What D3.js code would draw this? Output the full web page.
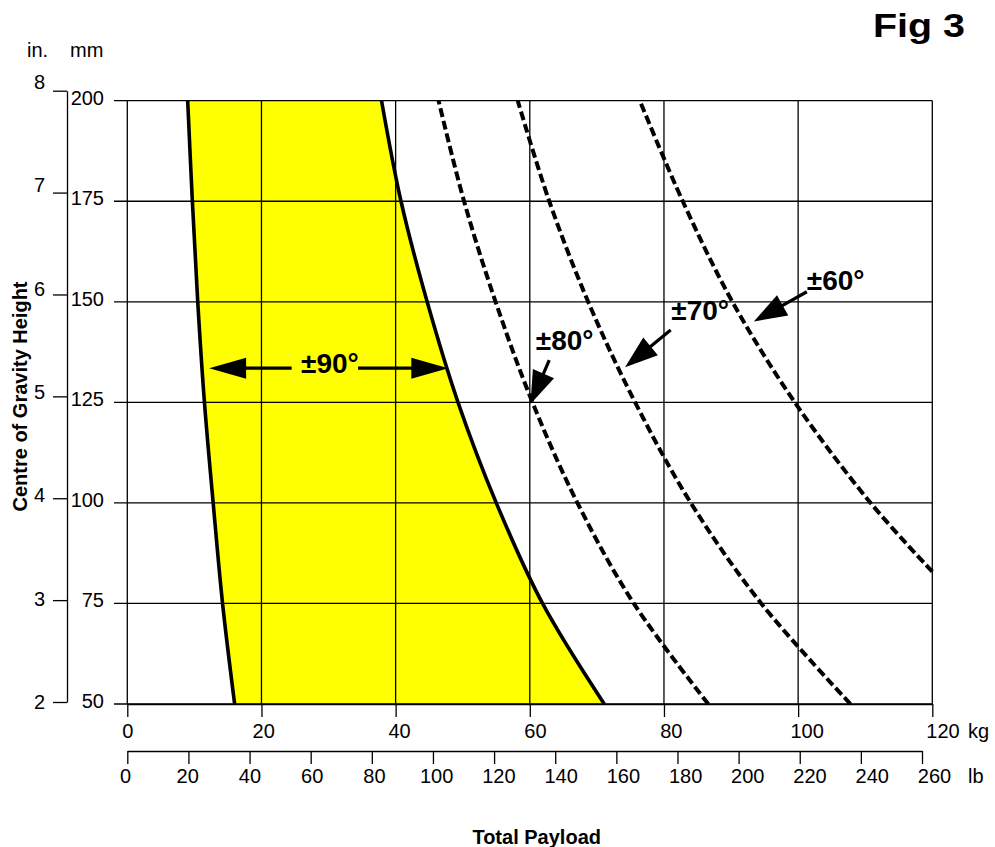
<!DOCTYPE html>
<html>
<head>
<meta charset="utf-8">
<script src="https://cdn.jsdelivr.net/npm/d3@7"></script>
<style>
  html, body { margin: 0; padding: 0; background: #fff; }
  svg { display: block; font-family: "Liberation Sans", Arial, Helvetica, sans-serif; }
</style>
</head>
<body>
<svg id="chart" width="995" height="847"></svg>
<script>
// ---------- data ----------
const kgTicks = [0, 20, 40, 60, 80, 100, 120];
const lbTicks = [0, 20, 40, 60, 80, 100, 120, 140, 160, 180, 200, 220, 240, 260];
const mmTicks = [50, 75, 100, 125, 150, 175, 200];
const inTicks = [2, 3, 4, 5, 6, 7, 8];

// centre of gravity height (mm) vs payload (kg) limits
const heightMM   = [50, 75, 100, 125, 150, 175, 200];
const limit90Low = [16.0, 14.2, 12.8, 11.5, 10.5, 9.7, 9.0];
const limit90High= [71.1, 61.9, 55.0, 49.3, 44.7, 40.8, 37.9];
const limit80    = [86.6, 75.5, 67.1, 60.4, 54.9, 50.2, 46.4];
const limit70    = [107.8, 94.5, 84.0, 75.7, 68.7, 62.9, 58.2];
const limit60Height = [82.9, 100, 125, 150, 175, 200];
const limit60       = [120, 110.8, 99.5, 90.2, 82.8, 76.4];

// annotations (data coordinates: kg, mm)
const labelText = ["±90°", "±80°", "±70°", "±60°"];
const labelKg   = [30.2, 65.2, 85.4, 105.6];
const labelMM   = [134.8, 140.5, 148.0, 155.4];
const arrowFromKg = [24.5, 34.4, 62.9, 81.0, 101.3];
const arrowFromMM = [133.5, 133.5, 135.5, 143.0, 152.5];
const arrowTipKg  = [12.2, 47.85, 60.1, 74.2, 93.4];
const arrowTipMM  = [133.5, 133.5, 124.6, 133.7, 145.1];

// ---------- scales ----------
const svg = d3.select("#chart");
const x = d3.scaleLinear().domain([0, 120]).range([127.3, 932.3]);
const xKgLabel = d3.scaleLinear().domain([0, 120]).range([127.3, 942.5]);
const xLb = d3.scaleLinear().domain([0, 260]).range([127.3, 922]);
const xLbLabel = d3.scaleLinear().domain([0, 260]).range([125, 934]);
const y = d3.scaleLinear().domain([50, 200]).range([704, 100.7]);
const yIn = d3.scaleLinear().domain([2, 8]).range([702, 90.7]);
const yInLabel = d3.scaleLinear().domain([2, 8]).range([702, 82]);

const FS = 20;

// ---------- yellow ±90° zone ----------
const zone = heightMM.map((h, i) => ({h, lo: limit90Low[i], hi: limit90High[i]}));
const curve = d3.curveCatmullRom.alpha(0.5);
svg.append("path")
  .datum(zone)
  .attr("fill", "#ffff00")
  .attr("d", d3.area().curve(curve).y(d => y(d.h)).x0(d => x(d.lo)).x1(d => x(d.hi)));

// ---------- grid ----------
const grid = svg.append("g").attr("stroke", "#000").attr("stroke-width", 1.3);
grid.selectAll(".v").data(kgTicks).join("line")
  .attr("x1", d => x(d)).attr("x2", d => x(d))
  .attr("y1", y(200)).attr("y2", y(50));
grid.selectAll(".h").data(mmTicks).join("line")
  .attr("x1", 114).attr("x2", x(120))
  .attr("y1", d => y(d)).attr("y2", d => y(d));

function styleAxis(g) {
  g.attr("font-family", null).attr("font-size", FS);
  g.selectAll("path, line").attr("stroke", "#000").attr("stroke-width", 1.3);
  g.selectAll("text").attr("fill", "#000");
}

// kg axis
const gKg = svg.append("g").attr("transform", `translate(0,${y(50)})`)
  .call(d3.axisBottom(x).tickValues(kgTicks).tickFormat(d3.format("d")).tickSize(13).tickSizeOuter(0).tickPadding(7))
  .call(styleAxis);
gKg.selectAll(".tick text").attr("dx", d => xKgLabel(d) - x(d));
svg.append("text").attr("x", 968).attr("y", 738).attr("font-size", FS).text("kg");

// lb axis
const gLb = svg.append("g").attr("transform", "translate(0,751)")
  .call(d3.axisBottom(xLb).tickValues(lbTicks).tickFormat(d3.format("d")).tickSize(13).tickSizeOuter(0).tickPadding(5))
  .call(styleAxis);
gLb.selectAll(".tick text").attr("dx", d => xLbLabel(d) - xLb(d));
svg.append("text").attr("x", 968).attr("y", 783).attr("font-size", FS).text("lb");

// mm axis (labels only; tick lines are the grid extensions)
const gMm = svg.append("g").attr("transform", "translate(114,0)")
  .call(d3.axisLeft(y).tickValues(mmTicks).tickFormat(d3.format("d")).tickSize(0).tickPadding(10))
  .call(styleAxis);
gMm.select(".domain").remove();
gMm.selectAll(".tick text").attr("dy", "0.17em");

// inch axis
const gIn = svg.append("g").attr("transform", "translate(67,0)")
  .call(d3.axisLeft(yIn).tickValues(inTicks).tickFormat(d3.format("d")).tickSize(14).tickSizeOuter(0).tickPadding(8))
  .call(styleAxis);
gIn.selectAll(".tick text").attr("dy", d => (yInLabel(d) - yIn(d)) + FS * 0.32);

// unit headers
svg.append("text").attr("x", 27).attr("y", 56.7).attr("font-size", FS).text("in.");
svg.append("text").attr("x", 70).attr("y", 56.7).attr("font-size", FS).text("mm");

// ---------- limit curves ----------
const line = d3.line().curve(curve).x(d => x(d[0])).y(d => y(d[1]));
const solidStyle = s => s.attr("fill", "none").attr("stroke", "#000").attr("stroke-width", 3.6);
svg.append("path").datum(heightMM.map((h, i) => [limit90Low[i], h])).attr("d", line).call(solidStyle);
svg.append("path").datum(heightMM.map((h, i) => [limit90High[i], h])).attr("d", line).call(solidStyle);

const dashStyle = s => s.attr("fill", "none").attr("stroke", "#000").attr("stroke-width", 4).attr("stroke-dasharray", "9,4");
svg.append("path").datum(heightMM.map((h, i) => [limit80[i], h])).attr("d", line).call(dashStyle);
svg.append("path").datum(heightMM.map((h, i) => [limit70[i], h])).attr("d", line).call(dashStyle);
svg.append("path").datum(limit60Height.map((h, i) => [limit60[i], h])).attr("d", line).call(dashStyle);

// ---------- annotations ----------
arrowFromKg.forEach((fk, i) => {
  const x0 = x(fk), y0 = y(arrowFromMM[i]);
  const x1 = x(arrowTipKg[i]), y1 = y(arrowTipMM[i]);
  const dx = x1 - x0, dy = y1 - y0, len = Math.hypot(dx, dy);
  const ux = dx / len, uy = dy / len;
  const headL = i < 2 ? 37 : 33, headW = i < 2 ? 10.5 : 11.5;
  const bx = x1 - ux * headL, by = y1 - uy * headL;
  svg.append("line").attr("x1", x0).attr("y1", y0).attr("x2", bx + ux * 2).attr("y2", by + uy * 2)
    .attr("stroke", "#000").attr("stroke-width", 3.2);
  svg.append("path")
    .attr("d", `M${x1},${y1}L${bx - uy * headW},${by + ux * headW}L${bx + uy * headW},${by - ux * headW}Z`)
    .attr("fill", "#000");
});

labelText.forEach((t, i) => {
  svg.append("text")
    .attr("x", x(labelKg[i])).attr("y", y(labelMM[i]))
    .attr("dy", "0.36em")
    .attr("text-anchor", "middle")
    .attr("font-size", 28).attr("font-weight", "bold")
    .text(t);
});

// ---------- titles ----------
svg.append("text")
  .attr("transform", "translate(27,396.5) rotate(-90)")
  .attr("text-anchor", "middle").attr("font-size", FS).attr("font-weight", "bold")
  .text("Centre of Gravity Height");
svg.append("text")
  .attr("x", 536.7).attr("y", 844).attr("text-anchor", "middle")
  .attr("font-size", FS).attr("font-weight", "bold")
  .text("Total Payload");
svg.append("text")
  .attr("x", 873).attr("y", 36.7)
  .attr("font-size", 34).attr("font-weight", "bold")
  .attr("textLength", 92).attr("lengthAdjust", "spacingAndGlyphs")
  .text("Fig 3");
</script>
</body>
</html>
